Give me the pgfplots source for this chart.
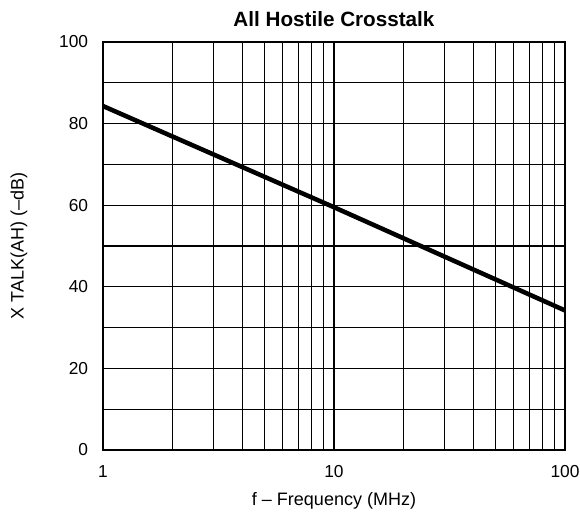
\documentclass[border=0pt]{standalone}
\usepackage{pgfplots}
\pgfplotsset{compat=1.18}
\usepackage{fontspec}
\setmainfont{Liberation Sans}
\begin{document}
\begin{tikzpicture}
\begin{axis}[
  xmode=log,
  scale only axis,
  width=346.5pt, height=306pt,
  xmin=1, xmax=100, ymin=0, ymax=100,
  xtick={1,10,100}, xticklabels={1,10,100},
  ytick={0,20,...,100},
  minor ytick={10,30,...,90},
  xmajorgrids, xminorgrids, ymajorgrids, yminorgrids,
  grid style={black, line width=0.8pt},
  minor grid style={black, line width=0.8pt},
  major tick length=0pt, minor tick length=0pt,
  axis line style={black, line width=0.9pt},
  /pgf/number format/assume math mode=true,
  ticklabel style={font=\fontsize{13}{15}\selectfont, inner sep=0pt},
  xticklabel style={yshift=-11.3pt},
  yticklabel style={anchor=east, xshift=-11pt},
  xlabel={f -- Frequency (MHz)},
  ylabel={X TALK(AH) (--dB)},
  xlabel style={font=\fontsize{13.5}{15}\selectfont, at={(axis description cs:0.5,0)}, anchor=center, yshift=-38.5pt},
  ylabel style={font=\fontsize{13.5}{15}\selectfont, at={(axis description cs:-0.1818,0.5)}, anchor=center},
  title={\textbf{All Hostile Crosstalk}},
  title style={font=\fontsize{15.5}{17}\selectfont, at={(axis description cs:0.5,1)}, anchor=center, yshift=11.4pt},
]
\addplot[black, line width=3.4pt] coordinates {(1,84.3) (10,59.5) (100,34.2)};
\end{axis}
\path (current axis.south west) ++(-77.25pt,-49.5pt) coordinate (bbA);
\path (current axis.north east) ++(11.25pt,31.5pt) coordinate (bbB);
\path (bbA) rectangle (bbB);
\end{tikzpicture}
\end{document}
